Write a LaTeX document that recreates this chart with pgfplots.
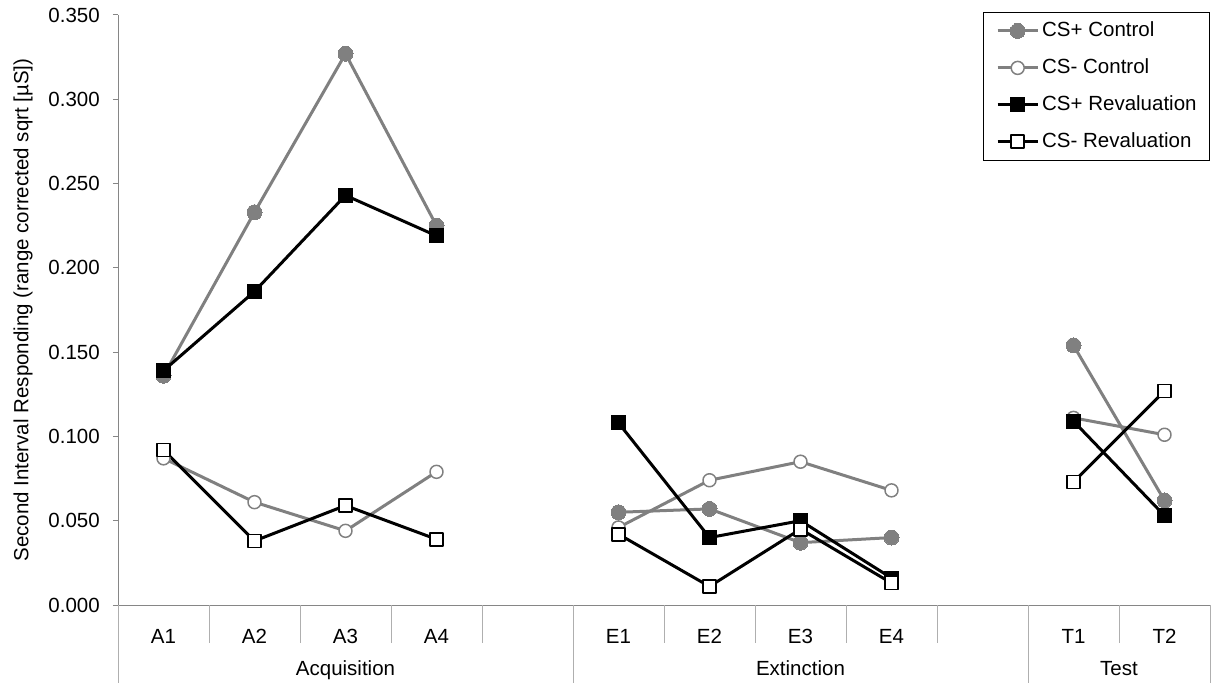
\documentclass[border=0pt]{standalone}
\usepackage{pgfplots}
\pgfplotsset{compat=1.18}
\usepackage{fontspec}
\setmainfont{Liberation Sans}
\definecolor{sgray}{RGB}{128,128,128}
\definecolor{axgray}{RGB}{134,134,134}
\definecolor{sepgray}{RGB}{175,175,175}
\begin{document}
\fontsize{20.5}{24}\selectfont
\begin{tikzpicture}
\begin{axis}[
  scale only axis, width=1092pt, height=590pt,
  xmin=-0.5, xmax=11.5, ymin=0, ymax=0.35,
  clip=false,
  unbounded coords=jump,
  axis x line*=bottom, axis y line*=left,
  axis line style={axgray, line width=1pt},
  tick align=outside,
  major tick length=5pt,
  ytick={0,0.05,0.1,0.15,0.2,0.25,0.3,0.35},
  ytick style={axgray, line width=1pt},
  yticklabel style={/pgf/number format/.cd, fixed, fixed zerofill, precision=3, assume math mode=true, /tikz/.cd, anchor=east, inner sep=0pt, xshift=-13pt},
  scaled y ticks=false,
  xtick={0,1,2,3,5,6,7,8,10,11},
  xticklabels={A1,A2,A3,A4,E1,E2,E3,E4,T1,T2},
  xtick style={draw=none},
  xticklabel style={anchor=base, inner sep=0pt, yshift=-33pt},
  ylabel={Second Interval Responding (range corrected sqrt [µS])},
  every axis y label/.style={at={(axis description cs:-0.0870,0.5)}, rotate=90, anchor=center},
  legend cell align=left,
  legend style={at={(rel axis cs:1,1)}, anchor=north east, yshift=3pt, draw=black, line width=0.8pt,
    inner xsep=13pt, inner ysep=10pt, row sep=20pt, column sep=3pt,
    nodes={inner sep=0pt, text height=14pt, text depth=3pt, line width=0.8pt}},
  legend image code/.code={\draw[mark repeat=2,mark phase=2,#1] plot coordinates {(0pt,0pt) (20pt,0pt) (40pt,0pt)};},
]
\addplot[sgray, line width=3pt, line join=round, mark=*, mark size=7.5pt, mark options={fill=sgray, draw=sgray, line width=0pt}]
 coordinates {(0,0.136)(1,0.233)(2,0.327)(3,0.225)(4,nan)(5,0.055)(6,0.057)(7,0.037)(8,0.040)(9,nan)(10,0.154)(11,0.062)};
\addlegendentry{CS+ Control}
\addplot[sgray, line width=3pt, line join=round, mark=*, mark size=6.5pt, mark options={fill=white, draw=sgray, line width=1.5pt}]
 coordinates {(0,0.087)(1,0.061)(2,0.044)(3,0.079)(4,nan)(5,0.046)(6,0.074)(7,0.085)(8,0.068)(9,nan)(10,0.111)(11,0.101)};
\addlegendentry{CS- Control}
\addplot[black, line width=3pt, line join=round, mark=square*, mark size=7pt, mark options={fill=black, draw=black, line width=0pt}]
 coordinates {(0,0.139)(1,0.186)(2,0.243)(3,0.219)(4,nan)(5,0.108)(6,0.040)(7,0.050)(8,0.016)(9,nan)(10,0.109)(11,0.053)};
\addlegendentry{CS+ Revaluation}
\addplot[black, line width=3pt, line join=round, mark=square*, mark size=6.5pt, mark options={fill=white, draw=black, line width=1.8pt}]
 coordinates {(0,0.092)(1,0.038)(2,0.059)(3,0.039)(4,nan)(5,0.042)(6,0.011)(7,0.045)(8,0.013)(9,nan)(10,0.073)(11,0.127)};
\addlegendentry{CS- Revaluation}
% category separators
\pgfplotsinvokeforeach{0.5,1.5,2.5,3.5,5.5,6.5,7.5,8.5,10.5}{\draw[sepgray, line width=1pt] (axis cs:#1,0) -- ++(0pt,-38pt);}
\pgfplotsinvokeforeach{-0.5,4.5,9.5,11.5}{\draw[sepgray, line width=1pt] (axis cs:#1,0) -- ++(0pt,-78pt);}
% group labels
\node[anchor=base, inner sep=0pt] at ([yshift=-70pt]axis cs:2,0) {Acquisition};
\node[anchor=base, inner sep=0pt] at ([yshift=-70pt]axis cs:7,0) {Extinction};
\node[anchor=base, inner sep=0pt] at ([yshift=-70pt]axis cs:10.5,0) {Test};
\end{axis}
\path ([xshift=-118pt,yshift=-78pt]current axis.south west) rectangle ([xshift=2pt,yshift=15pt]current axis.north east);
\end{tikzpicture}
\end{document}
